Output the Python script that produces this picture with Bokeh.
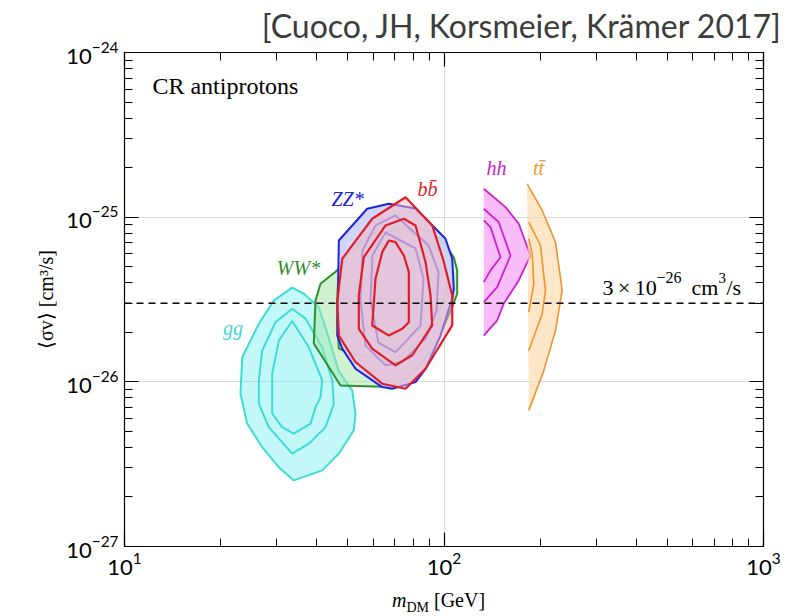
from bokeh.plotting import figure
from bokeh.layouts import column
from bokeh.models import Range1d, LogAxis, FixedTicker, CustomJSTickFormatter, Span, Label, Div
from bokeh.embed import file_html
from bokeh.resources import INLINE

# ---------------- data ----------------
x_major = [10, 100, 1000]
x_minor = [m * 10 ** e for e in (1, 2) for m in range(2, 10)]
y_major = [1e-27, 1e-26, 1e-25, 1e-24]
y_minor = [m * 10.0 ** e for e in (-27, -26, -25) for m in range(2, 10)]

thermal_sv = 3e-26

gg_outer_m = [33.49, 36.41, 40.57, 43.51, 46.77, 51.60, 52.84, 52.20, 46.87, 41.58, 33.88, 30.40, 26.98, 24.21, 23.07, 23.36, 26.33, 29.33]
gg_outer_sv = [3.73e-26, 3.43e-26, 2.84e-26, 1.87e-26, 1.17e-26, 8.87e-27, 6.40e-27, 5.07e-27, 3.67e-27, 2.90e-27, 2.52e-27, 3.03e-27, 4.01e-27, 5.57e-27, 8.47e-27, 1.41e-26, 2.25e-26, 3.12e-26]
gg_mid_m = [33.49, 36.86, 41.58, 44.69, 45.21, 42.58, 37.75, 33.49, 28.29, 26.33, 26.33, 26.98, 29.69]
gg_mid_sv = [2.78e-26, 2.42e-26, 1.62e-26, 1.02e-26, 7.36e-27, 5.31e-27, 4.21e-27, 3.66e-27, 5.31e-27, 7.36e-27, 1.02e-26, 1.55e-26, 2.30e-26]
gg_in_m = [33.49, 37.75, 41.58, 41.07, 39.62, 38.22, 33.88, 31.16, 28.99, 28.99, 30.40]
gg_in_sv = [2.34e-26, 1.62e-26, 1.02e-26, 8.07e-27, 7.02e-27, 5.57e-27, 4.84e-27, 5.31e-27, 6.40e-27, 1.12e-26, 1.78e-26]

ww_outer_m = [46.33, 54.79, 73.07, 97.5, 107.3, 110.0, 110.0, 106.1, 94.06, 78.58, 68.03, 47.44, 39.13, 39.62, 41.07]
ww_outer_sv = [4.75e-26, 7.22e-26, 9.78e-26, 7.43e-26, 5.71e-26, 4.75e-26, 3.44e-26, 2.84e-26, 1.66e-26, 1.09e-26, 9.29e-27, 9.51e-27, 1.71e-26, 3.12e-26, 3.94e-26]
ww_mid_m = [47.44, 58.88, 75.79, 97.5, 103.3, 98.9, 84.45, 68.03, 50.24, 46.87, 46.33, 46.43]
ww_mid_sv = [5.31e-26, 7.74e-26, 8.54e-26, 6.28e-26, 4.13e-26, 2.91e-26, 1.78e-26, 1.31e-26, 1.51e-26, 1.59e-26, 2.30e-26, 3.59e-26]

zz_outer_m = [46.87, 57.49, 67.19, 81.46, 101.1, 106.1, 107.3, 106.1, 97.5, 87.54, 81.46, 68.86, 64.07, 52.84, 48.03, 46.33]
zz_outer_sv = [7.22e-26, 1.125e-25, 1.206e-25, 1.129e-25, 7.40e-26, 5.59e-26, 3.67e-26, 3.20e-26, 1.91e-26, 1.20e-26, 9.96e-27, 9.08e-27, 9.29e-27, 1.20e-26, 1.59e-26, 1.91e-26]
zz_mid_m = [70.52, 89.45, 96.12, 94.74, 87.54, 74.02, 65.61, 56.79, 54.79, 55.57, 61.04]
zz_mid_sv = [1.024e-25, 6.73e-26, 4.64e-26, 2.71e-26, 1.83e-26, 1.32e-26, 1.26e-26, 1.66e-26, 3.12e-26, 6.28e-26, 8.91e-26]
zz_in_m = [65.61, 81.46, 86.28, 84.45, 70.52, 62.37, 58.88, 59.72]
zz_in_sv = [8.07e-26, 6.46e-26, 4.24e-26, 2.20e-26, 1.51e-26, 1.73e-26, 3.12e-26, 5.85e-26]

bb_outer_m = [75.79, 91.85, 99.6, 106.1, 106.1, 87.54, 75.79, 64.07, 52.84, 46.87, 46.33, 48.03, 59.60]
bb_outer_sv = [1.322e-25, 8.91e-26, 5.46e-26, 3.35e-26, 2.20e-26, 1.20e-26, 9.08e-27, 9.74e-27, 1.32e-26, 1.91e-26, 3.05e-26, 5.59e-26, 9.78e-26]
bb_mid_m = [74.88, 81.46, 87.54, 90.75, 91.85, 79.55, 70.52, 59.60, 54.12, 54.12, 56.10, 65.61]
bb_mid_sv = [9.78e-26, 8.91e-26, 5.33e-26, 3.35e-26, 2.20e-26, 1.45e-26, 1.26e-26, 1.59e-26, 2.10e-26, 3.35e-26, 5.71e-26, 8.91e-26]
bb_in_m = [67.19, 70.52, 74.88, 77.62, 77.62, 74.02, 67.19, 59.60, 61.04, 64.07]
bb_in_sv = [7.22e-26, 7.05e-26, 5.85e-26, 4.64e-26, 2.30e-26, 2.10e-26, 1.91e-26, 2.20e-26, 4.23e-26, 6.13e-26]

hh_outer_m = [133.2, 155.8, 171.4, 186.5, 171.4, 153.8, 146.7, 133.2]
hh_outer_sv = [1.487e-25, 1.150e-25, 9.12e-26, 5.85e-26, 4.13e-26, 2.98e-26, 2.36e-26, 1.91e-26]
hh_mid_m = [133.2, 148.4, 161.5, 146.7, 133.2]
hh_mid_sv = [1.125e-25, 9.32e-26, 5.85e-26, 3.76e-26, 3.05e-26]
hh_in_m = [133.2, 139.8, 150.3, 139.8, 133.2]
hh_in_sv = [9.55e-26, 8.70e-26, 5.71e-26, 4.75e-26, 4.03e-26]

tt_outer_m = [182.1, 202.9, 223.4, 234.4, 223.4, 205.3, 184.2]
tt_outer_sv = [1.595e-25, 1.098e-25, 7.05e-26, 3.59e-26, 2.05e-26, 1.17e-26, 6.71e-27]
tt_mid_m = [184.2, 200.4, 207.8, 202.9, 184.2]
tt_mid_sv = [9.32e-26, 6.73e-26, 3.59e-26, 2.59e-26, 1.55e-26]
tt_in_m = [184.2, 188.8, 191.0, 184.2]
tt_in_sv = [7.40e-26, 5.99e-26, 3.94e-26, 2.65e-26]

channel_labels = ["gg", "WW*", "ZZ*", "bb\u0304", "hh", "tt\u0304"]
channel_label_m = [21.86, 35.05, 49.89, 88.8, 146.0, 197.6]
channel_label_sv = [2.11e-26, 4.88e-26, 1.281e-25, 1.473e-25, 2.00e-25, 2.00e-25]
channel_colors = ["#3fd9d9", "#2f8f2f", "#2222dd", "#e01e2a", "#cc22cc", "#f0942e"]

title_text = "[Cuoco, JH, Korsmeier, Kr\u00e4mer 2017]"

# ---------------- figure ----------------
p = figure(width=793, height=590, x_axis_type="log", y_axis_type="log",
           x_range=Range1d(10, 1000), y_range=Range1d(1e-27, 1e-24),
           output_backend="svg", toolbar_location=None,
           min_border_left=124, min_border_right=30, min_border_top=52, min_border_bottom=44)
p.background_fill_color = "white"
p.border_fill_color = "white"
p.outline_line_color = "black"
p.outline_line_width = 1.2

p.title.text = title_text
p.title.align = "right"
p.title.vertical_align = "top"
p.title.text_font = "Lato"
p.title.text_font_size = "32px"
p.title.text_font_style = "normal"
p.title.text_color = "#3c3c3c"
p.title.offset = -19
p.title.standoff = 11


def style(ax, major, minor, labels=True):
    ax.ticker = FixedTicker(ticks=major, minor_ticks=minor)
    ax.major_tick_in = 14
    ax.major_tick_out = 0
    ax.minor_tick_in = 8
    ax.minor_tick_out = 0
    ax.axis_line_color = "black"
    ax.major_tick_line_color = "black"
    ax.minor_tick_line_color = "black"
    ax.major_tick_line_width = 1.2
    ax.minor_tick_line_width = 1.0
    ax.major_label_text_font = "Lato"
    ax.major_label_text_font_size = "22px"
    ax.major_label_text_color = "black"
    ax.major_label_standoff = 6
    if not labels:
        ax.formatter = CustomJSTickFormatter(code="return ''")
        ax.major_label_text_font_size = "0px"
        ax.major_label_standoff = 0


style(p.xaxis[0], x_major, x_minor)
style(p.yaxis[0], y_major, y_minor)
top_ax = LogAxis()
style(top_ax, x_major, x_minor, labels=False)
p.add_layout(top_ax, "above")
right_ax = LogAxis()
style(right_ax, y_major, y_minor, labels=False)
p.add_layout(right_ax, "right")

p.yaxis[0].axis_label = "\u27e8\u03c3v\u27e9 [cm\u00b3/s]"
p.yaxis[0].axis_label_text_font = "Liberation Serif"
p.yaxis[0].axis_label_text_font_size = "20px"
p.yaxis[0].axis_label_text_font_style = "normal"
p.yaxis[0].axis_label_text_color = "black"
p.yaxis[0].axis_label_standoff = 6

p.xgrid.ticker = FixedTicker(ticks=[100])
p.ygrid.ticker = FixedTicker(ticks=[1e-26, 1e-25])
p.xgrid.grid_line_color = "#d9d9d9"
p.ygrid.grid_line_color = "#d9d9d9"

# ---------------- contours ----------------
# gg
p.patch(gg_outer_m, gg_outer_sv, fill_color="#5eeeee", fill_alpha=0.36, line_color="#3fdcd6", line_width=2)
for xs, ys in [(gg_mid_m, gg_mid_sv), (gg_in_m, gg_in_sv)]:
    p.patch(xs, ys, fill_color="#5eeeee", fill_alpha=0.04, line_color="#3fdcd6", line_width=2)

# WW*
p.patch(ww_outer_m, ww_outer_sv, fill_color="#a4e6a4", fill_alpha=0.5, line_color="#2f8f2f", line_width=2)
p.patch(ww_mid_m, ww_mid_sv, fill_alpha=0, line_color="#2f8f2f", line_width=2)

# ZZ*
p.patch(zz_outer_m, zz_outer_sv, fill_color="#ccd3f8", fill_alpha=0.92, line_color="#2222dd", line_width=2)
for xs, ys in [(zz_mid_m, zz_mid_sv), (zz_in_m, zz_in_sv)]:
    p.patch(xs, ys, fill_alpha=0, line_color="#7272ea", line_width=2)

# bb
p.patch(bb_outer_m, bb_outer_sv, fill_color="#fab8c2", fill_alpha=0.5, line_color="#e01e2a", line_width=2.2)
for xs, ys in [(bb_mid_m, bb_mid_sv), (bb_in_m, bb_in_sv)]:
    p.patch(xs, ys, fill_alpha=0, line_color="#e01e2a", line_width=2.2)

# hh
p.patch(hh_outer_m, hh_outer_sv, fill_color="#f592f5", fill_alpha=0.6, line_color=None)
for xs, ys in [(hh_outer_m, hh_outer_sv), (hh_mid_m, hh_mid_sv), (hh_in_m, hh_in_sv)]:
    p.line(xs, ys, line_color="#cc22cc", line_width=1.8)

# tt
p.patch(tt_outer_m, tt_outer_sv, fill_color="#fdd8aa", fill_alpha=0.65, line_color=None)
for xs, ys in [(tt_outer_m, tt_outer_sv), (tt_mid_m, tt_mid_sv), (tt_in_m, tt_in_sv)]:
    p.line(xs, ys, line_color="#f0942e", line_width=1.6)

# thermal cross section
p.add_layout(Span(location=thermal_sv, dimension="width", line_color="black",
                  line_dash="7 5", line_width=1.5))

# ---------------- texts ----------------
for t, xm, ys, c in zip(channel_labels, channel_label_m, channel_label_sv, channel_colors):
    p.add_layout(Label(x=xm, y=ys, text=t, text_color=c, text_font="Liberation Serif",
                       text_font_style="italic", text_font_size="20px",
                       text_align="center", text_baseline="middle"))

p.add_layout(Label(x=12.23, y=6.30e-25, text="CR antiprotons", text_font="Liberation Serif",
                   text_font_size="24px", text_color="black", text_baseline="middle"))

# 3x10^-26 cm^3/s, pieces with superscripts
ann_x, ann_y = 313.4, 3.74e-26
pieces = [("3\u2009\u00d7\u200910", 0, 0, "22px"), ("\u221226", 54, 10, "16px"),
          ("cm", 89, 0, "22px"), ("3", 116, 10, "15px"), ("/s", 124, 0, "22px")]
for txt, dx, dy, fs in pieces:
    p.add_layout(Label(x=ann_x, y=ann_y, x_offset=dx, y_offset=dy, text=txt,
                       text_font="Liberation Serif", text_font_size=fs, text_color="black",
                       text_baseline="alphabetic"))

xlabel = Div(text="<i>m</i><sub style='font-size:14px'>DM</sub>&nbsp;[GeV]",
             width=793, height=26, margin=0,
             styles={"font-family": "Liberation Serif", "font-size": "20px",
                     "line-height": "20px", "padding-left": "392px", "padding-top": "0px",
                     "color": "black", "box-sizing": "border-box"})

layout = column(p, xlabel, spacing=0)
open("out.html", "w").write(file_html(layout, INLINE))
